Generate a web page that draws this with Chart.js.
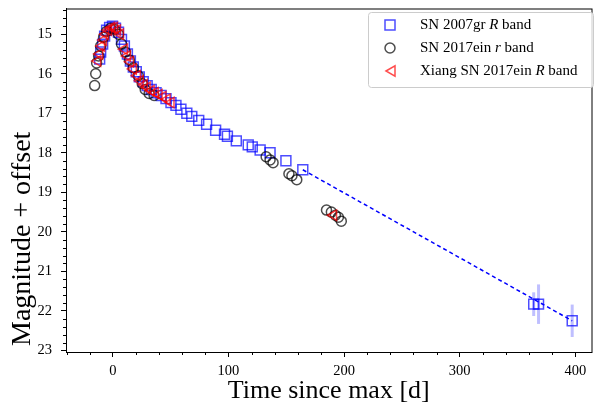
<!DOCTYPE html>
<html>
<head>
<meta charset="utf-8">
<script src="https://cdn.jsdelivr.net/npm/chart.js@4/dist/chart.umd.min.js"></script>
<style>
  html, body { margin: 0; padding: 0; background: #fff; }
  #wrap { width: 600px; height: 412px; }
</style>
</head>
<body>
<div id="wrap"><canvas id="lcChart" width="600" height="412"></canvas></div>
<script>
// SN 2007gr R band
const gr07Days = [-11.4, -10.5, -8.8, -7.1, -5.4, -2.8, -0.3, 2.3, 4.9, 7.5, 10, 12.6, 15.2, 17.7, 20.3, 22.9,
    26.3, 29.7, 33.2, 37.4, 41.7, 46, 50.3, 54.6, 58.9, 64, 68.3, 74.3, 81.1, 88.9, 96.6, 99.1, 106.8,
    117.1, 120.6, 127.4, 136, 149.7, 164.3, 364, 368.2, 397.3];
const gr07Mag = [15.63, 15.45, 15.25, 15.05, 14.9, 14.83, 14.8, 14.85, 14.95, 15.13, 15.3, 15.5, 15.68, 15.83, 15.95, 16.08,
    16.2, 16.3, 16.4, 16.48, 16.55, 16.63, 16.73, 16.8, 16.9, 17.0, 17.08, 17.18, 17.28, 17.43, 17.53, 17.58, 17.7,
    17.8, 17.85, 17.93, 18.0, 18.2, 18.43, 21.83, 21.83, 22.25];

// SN 2017ein r band
const ein17Days = [-15.7, -14.8, -14, -12.3, -10.5, -8, -5.4, -2, 1.5, 4.9, 7.5, 10.9, 14.3, 17.7, 22, 25.4, 28, 31.4, 35.7,
    132.6, 136, 138.6, 152.3, 154.9, 159.1, 184.8, 189, 192.5, 195.1, 197.6];
const ein17Mag = [16.3, 16.0, 15.73, 15.55, 15.3, 15.08, 14.93, 14.85, 14.88, 15.0, 15.25, 15.45, 15.65, 15.85, 16.05, 16.25, 16.4, 16.5, 16.55,
    18.1, 18.18, 18.25, 18.53, 18.58, 18.68, 19.45, 19.5, 19.58, 19.63, 19.73];

// Xiang SN 2017ein R band
const xiangDays = [-13.1, -11.4, -9.7, -8, -6.3, -3.7, -1.1, 1.5, 4, 6.6, 10, 12.6, 15.2, 17.7, 21.2, 23.7, 27.2, 29.7,
    33.2, 36.6, 40, 43.4, 46.9, 50.3, 190.9];
const xiangMag = [15.68, 15.5, 15.3, 15.15, 15.0, 14.9, 14.83, 14.83, 14.9, 15.0, 15.38, 15.55, 15.7, 15.88, 16.05, 16.18, 16.28, 16.35,
    16.43, 16.48, 16.53, 16.58, 16.65, 16.73, 19.58];

// late-time error bars on SN 2007gr
const errDays = [364, 368.2, 397.3];
const errMag = [21.83, 21.83, 22.25];
const errSize = [0.3, 0.5, 0.41];

// linear decline (dashed)
const fitDays = [164.3, 397.3];
const fitMag = [18.43, 22.25];

const xTicks = [0, 100, 200, 300, 400];
const yTicks = [15, 16, 17, 18, 19, 20, 21, 22, 23];

const SERIF = "'Liberation Serif', 'Times New Roman', serif";
const BLUE = "rgba(0, 0, 255, 0.7)";
const GREY = "rgba(0, 0, 0, 0.7)";
const RED = "rgba(255, 0, 0, 0.7)";

function toPoints(xs, ys) {
    return xs.map((x, i) => ({ x: x, y: ys[i] }));
}

function noPadding(scale) {
    scale.paddingTop = 0;
    scale.paddingBottom = 0;
    scale.paddingLeft = 0;
    scale.paddingRight = 0;
}

// error bars behind the markers
const errorBars = {
    id: "errorBars",
    beforeDatasetsDraw(chart) {
        const { ctx, scales: { x, y } } = chart;
        ctx.save();
        ctx.strokeStyle = "rgba(0, 0, 255, 0.25)";
        ctx.lineWidth = 3;
        errDays.forEach((d, i) => {
            const px = x.getPixelForValue(d);
            ctx.beginPath();
            ctx.moveTo(px, y.getPixelForValue(errMag[i] - errSize[i]));
            ctx.lineTo(px, y.getPixelForValue(errMag[i] + errSize[i]));
            ctx.stroke();
        });
        ctx.restore();
    }
};

// box, minor ticks, y title and the legend
const frame = {
    id: "frame",
    afterDraw(chart) {
        const { ctx, chartArea: a, scales: { x, y } } = chart;
        ctx.save();
        ctx.strokeStyle = "#000";
        ctx.lineWidth = 1;
        ctx.strokeRect(a.left + 0.5, a.top + 0.5, a.right - a.left, a.bottom - a.top);

        ctx.beginPath();
        for (let d = -40; d <= 410; d += 20) {
            if (d % 100 === 0) continue;
            const px = Math.round(x.getPixelForValue(d)) + 0.5;
            ctx.moveTo(px, a.bottom);
            ctx.lineTo(px, a.bottom + 3);
        }
        for (let k = 72; k <= 115; k++) {
            if (k % 5 === 0) continue;
            const py = Math.round(y.getPixelForValue(k / 5)) + 0.5;
            ctx.moveTo(a.left, py);
            ctx.lineTo(a.left - 3, py);
        }
        ctx.stroke();

        // y axis title, sits low like in the original
        ctx.save();
        ctx.translate(23, a.bottom - 6);
        ctx.rotate(-Math.PI / 2);
        ctx.fillStyle = "#000";
        ctx.font = "28px " + SERIF;
        ctx.textAlign = "left";
        ctx.textBaseline = "middle";
        ctx.fillText("Magnitude + offset", 0, 0);
        ctx.restore();

        // legend
        const bx = 368, by = 12, bw = 225, bh = 75;
        ctx.fillStyle = "rgba(255,255,255,0.8)";
        ctx.strokeStyle = "#cccccc";
        ctx.beginPath();
        ctx.roundRect(bx + 0.5, by + 0.5, bw, bh, 3);
        ctx.fill();
        ctx.stroke();

        const rows = [
            ["SN 2007gr ", "R", " band"],
            ["SN 2017ein ", "r", " band"],
            ["Xiang SN 2017ein ", "R", " band"]
        ];
        const rowY = [25, 48, 71];
        ctx.lineWidth = 1.5;

        ctx.strokeStyle = BLUE;
        ctx.strokeRect(385, rowY[0] - 5, 10, 10);

        ctx.strokeStyle = GREY;
        ctx.beginPath();
        ctx.arc(390, rowY[1], 5, 0, Math.PI * 2);
        ctx.stroke();

        ctx.strokeStyle = RED;
        ctx.beginPath();
        ctx.moveTo(386, rowY[2]);
        ctx.lineTo(395, rowY[2] - 5.2);
        ctx.lineTo(395, rowY[2] + 5.2);
        ctx.closePath();
        ctx.stroke();

        ctx.fillStyle = "#000";
        ctx.textBaseline = "middle";
        ctx.textAlign = "left";
        rows.forEach((parts, i) => {
            let tx = 420;
            parts.forEach((p, j) => {
                ctx.font = (j === 1 ? "italic " : "") + "15px " + SERIF;
                ctx.fillText(p, tx, rowY[i]);
                tx += ctx.measureText(p).width;
            });
        });
        ctx.restore();
    }
};

new Chart(document.getElementById("lcChart"), {
    type: "scatter",
    data: {
        datasets: [
            {
                label: "fit",
                type: "line",
                data: toPoints(fitDays, fitMag),
                borderColor: "blue",
                borderWidth: 1.5,
                borderDash: [4, 3],
                pointRadius: 0,
                fill: false,
                order: 4
            },
            {
                label: "SN 2007gr R band",
                data: toPoints(gr07Days, gr07Mag),
                pointStyle: "rect",
                pointRadius: 7,
                borderColor: BLUE,
                backgroundColor: "rgba(0,0,0,0)",
                borderWidth: 1.5,
                order: 3
            },
            {
                label: "SN 2017ein r band",
                data: toPoints(ein17Days, ein17Mag),
                pointStyle: "circle",
                pointRadius: 5,
                borderColor: GREY,
                backgroundColor: "rgba(0,0,0,0)",
                borderWidth: 1.5,
                order: 2
            },
            {
                label: "Xiang SN 2017ein R band",
                data: toPoints(xiangDays, xiangMag),
                pointStyle: "triangle",
                pointRotation: -90,
                pointRadius: 6,
                borderColor: RED,
                backgroundColor: "rgba(0,0,0,0)",
                borderWidth: 1.5,
                order: 1
            }
        ]
    },
    plugins: [errorBars, frame],
    options: {
        responsive: false,
        animation: false,
        events: [],
        layout: { padding: { top: 4, right: 4, left: 0, bottom: 0 } },
        plugins: {
            legend: { display: false },
            tooltip: { enabled: false }
        },
        scales: {
            x: {
                type: "linear",
                min: -40.5,
                max: 414,
                afterBuildTicks: (scale) => { scale.ticks = xTicks.map(v => ({ value: v })); },
                afterFit: (scale) => { scale.height = 60; noPadding(scale); },
                grid: { drawOnChartArea: false, tickLength: 5, tickColor: "#000" },
                border: { color: "#000", width: 1 },
                ticks: {
                    color: "#000",
                    padding: 5,
                    maxRotation: 0,
                    font: { family: SERIF, size: 14.5 }
                },
                title: {
                    display: true,
                    text: "Time since max [d]",
                    color: "#000",
                    font: { family: SERIF, size: 26 },
                    padding: { top: 0, bottom: 5 }
                }
            },
            y: {
                type: "linear",
                reverse: true,
                min: 14.35,
                max: 23.04,
                afterBuildTicks: (scale) => { scale.ticks = yTicks.map(v => ({ value: v })); },
                afterFit: (scale) => { scale.width = 66; noPadding(scale); },
                grid: { drawOnChartArea: false, tickLength: 5, tickColor: "#000" },
                border: { color: "#000", width: 1 },
                ticks: {
                    color: "#000",
                    padding: 9,
                    font: { family: SERIF, size: 14.5 }
                },
                title: { display: false }
            }
        }
    }
});
</script>
</body>
</html>
